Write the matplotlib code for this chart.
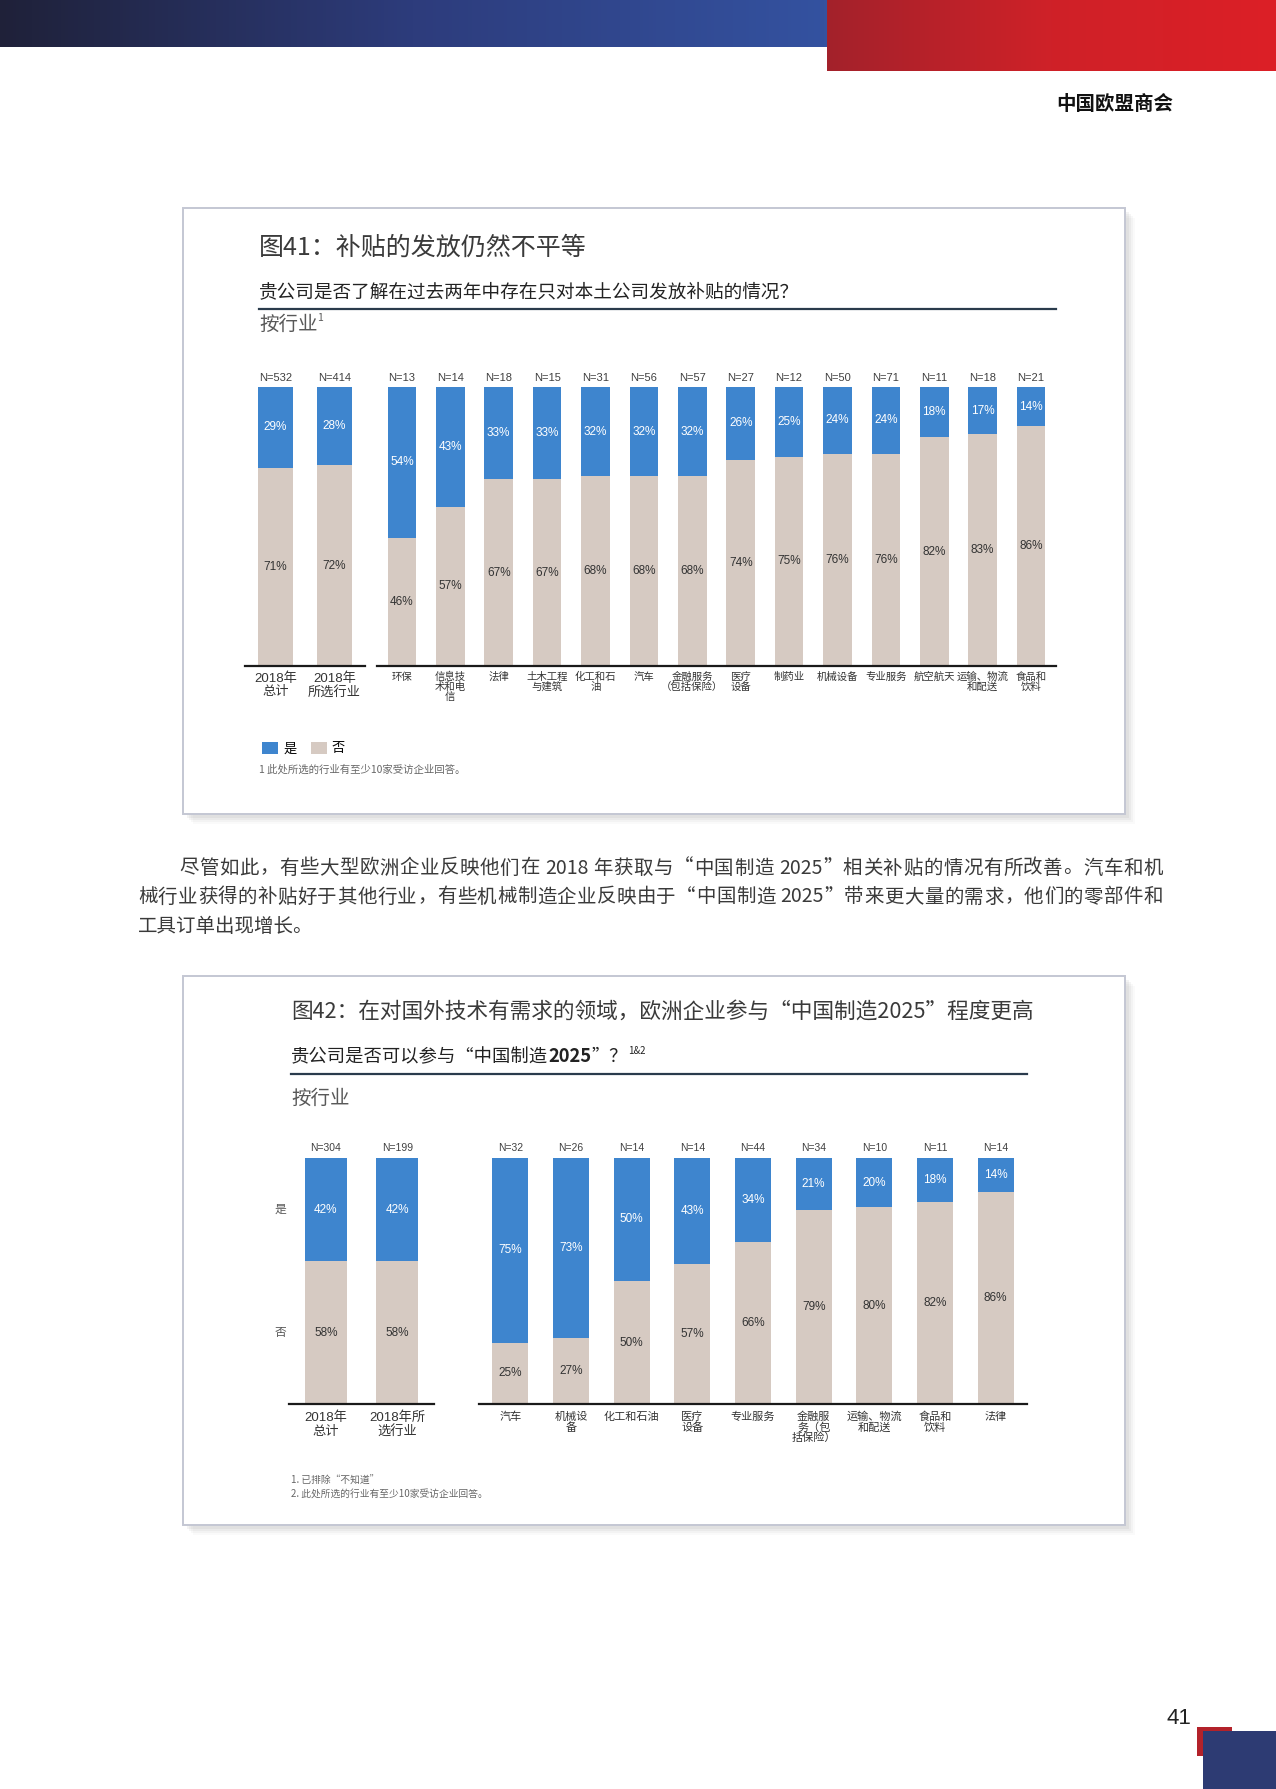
"page 41: two stacked-bar charts (subsidies / China Manufacturing 2025)"
import re
import numpy as np
import matplotlib
matplotlib.use("Agg")
from matplotlib import pyplot as plt
from matplotlib.colors import LinearSegmentedColormap
from matplotlib.font_manager import FontProperties
from matplotlib.patches import Rectangle

W, H = 1276, 1789
CJK = 'Noto Sans CJK SC'
NUM = ['Liberation Sans', CJK]
plt.rcParams['font.family'] = [CJK, 'DejaVu Sans']

BLUE = '#3E85CE'
BEIGE = '#D6CAC2'
DARK = '#333333'
GREY = '#595959'

# figure 41
f41_total_labels = ['2018年\n总计', '2018年\n所选行业']
f41_total_n = [532, 414]
f41_total_yes = [29, 28]
f41_total_no = [71, 72]
f41_sectors = ['环保', '信息技\n术和电\n信', '法律', '土木工程\n与建筑', '化工和石\n油', '汽车',
               '金融服务\n（包括保险）', '医疗\n设备', '制药业', '机械设备', '专业服务', '航空航天',
               '运输、物流\n和配送', '食品和\n饮料']
f41_n = [13, 14, 18, 15, 31, 56, 57, 27, 12, 50, 71, 11, 18, 21]
f41_yes = [54, 43, 33, 33, 32, 32, 32, 26, 25, 24, 24, 18, 17, 14]
f41_no = [46, 57, 67, 67, 68, 68, 68, 74, 75, 76, 76, 82, 83, 86]

# figure 42
f42_total_labels = ['2018年\n总计', '2018年所\n选行业']
f42_total_n = [304, 199]
f42_total_yes = [42, 42]
f42_total_no = [58, 58]
f42_sectors = ['汽车', '机械设\n备', '化工和石油', '医疗\n设备', '专业服务', '金融服\n务（包\n括保险）',
               '运输、物流\n和配送', '食品和\n饮料', '法律']
f42_n = [32, 26, 14, 14, 44, 34, 10, 11, 14]
f42_yes = [75, 73, 50, 43, 34, 21, 20, 18, 14]
f42_no = [25, 27, 50, 57, 66, 79, 80, 82, 86]

para_lines = [
    '尽管如此，有些大型欧洲企业反映他们在 2018 年获取与“中国制造 2025”相关补贴的情况有所改善。汽车和机',
    '械行业获得的补贴好于其他行业，有些机械制造企业反映由于“中国制造 2025”带来更大量的需求，他们的零部件和',
    '工具订单出现增长。',
]

fig = plt.figure(figsize=(W / 100, H / 100), dpi=100)
page = fig.add_axes([0, 0, 1, 1])
page.axis('off')

# top banner
grad = np.linspace(0, 1, 256)[None, :]
page.imshow(grad, cmap=LinearSegmentedColormap.from_list('d', ['#1f2139', '#2d3c7c', '#3452a0']),
            extent=(0, 827, 47, 0), aspect='auto', zorder=1)
page.imshow(grad, cmap=LinearSegmentedColormap.from_list('r', ['#a3222b', '#cf2128', '#dc1f26']),
            extent=(827, W, 71, 0), aspect='auto', zorder=1)
page.text(1173, 104, '中国欧盟商会', ha='right', va='center', fontsize=14, weight='bold', color='#111111')

# bottom corner squares + page number
page.add_patch(Rectangle((1197, 1727), 35, 29, color='#b3222a', lw=0))
page.add_patch(Rectangle((1203, 1731), 80, 60, color='#2d3b73', lw=0))
page.text(1191, 1719, '41', ha='right', va='center', fontsize=16, family=NUM, color='#222222')


def card(x0, y0, x1, y1):
    for k, a in [(10, 0.04), (8, 0.06), (6, 0.08), (4, 0.10)]:
        page.add_patch(Rectangle((x0 + k, y0 + k), x1 - x0, y1 - y0, color='#8a8a8a', alpha=a, lw=0))
    page.add_patch(Rectangle((x0, y0), x1 - x0, y1 - y0, facecolor='white', edgecolor='#c4c7d3', lw=1.4))


def group(box, labels, n, yes, no, lab_fs, lab_fam, pct_fs, n_fs, pad, n_off, lsp=1.1):
    x0, y0, x1, y1 = box
    ax = fig.add_axes([x0 / W, 1 - y1 / H, (x1 - x0) / W, (y1 - y0) / H])
    ax.patch.set_alpha(0)
    x = np.arange(len(labels))
    b_no = ax.bar(x, no, 0.59, color=BEIGE, lw=0)
    b_yes = ax.bar(x, yes, 0.59, bottom=no, color=BLUE, lw=0)
    for i in x:
        ax.text(i, no[i] / 2, f'{no[i]}%', ha='center', va='center', fontsize=pct_fs, family=NUM, color=DARK)
        ax.text(i, no[i] + yes[i] / 2, f'{yes[i]}%', ha='center', va='center', fontsize=pct_fs,
                family=NUM, color='white')
        ax.annotate(f'N={n[i]}', (i, 100), xytext=(0, n_off), textcoords='offset points', ha='center',
                    va='center', fontsize=n_fs, family=NUM, color='#404040')
    ax.set_xlim(-0.515, len(x) - 0.485)
    ax.set_ylim(0, 100)
    ax.set_yticks([])
    for s in ['left', 'right', 'top']:
        ax.spines[s].set_visible(False)
    ax.spines['bottom'].set_linewidth(1.6)
    ax.spines['bottom'].set_color('#1a1a1a')
    ax.set_xticks(x, labels)
    ax.tick_params(axis='x', length=0, pad=pad, labelsize=lab_fs, labelcolor=DARK)
    for t in ax.get_xticklabels():
        t.set_linespacing(lsp)
        t.set_family(lab_fam)
    return ax, b_yes, b_no


def chain(first, pieces):
    prev = first
    for s, kw in pieces:
        xy = kw.pop('xy', (1, 0))
        prev = page.annotate(s, xy=xy, xycoords=prev, va='bottom', ha='left', **kw)
    return prev


# ---- figure 41 ----
card(183, 208, 1125, 814)
page.text(259, 248, '图41：补贴的发放仍然不平等', va='center', fontsize=18, weight='light', color='#3a3a3a')
page.text(259, 292, '贵公司是否了解在过去两年中存在只对本土公司发放补贴的情况？', va='center',
          fontsize=13.4, color='#222222')
page.plot([259, 1056], [309, 309], color='#2a3b4c', lw=1.6)
t = page.text(259, 324, '按行业', va='center', fontsize=14, color=GREY)
chain(t, [('1', dict(fontsize=7.5, color=GREY, xy=(1, 0.55)))])

group((245, 387, 365, 666), f41_total_labels, f41_total_n, f41_total_yes, f41_total_no,
      9.5, NUM, 8.5, 8, 4.5, 6.5, 1.15)
ax41, by, bn = group((377, 387, 1056, 666), f41_sectors, f41_n, f41_yes, f41_no,
                     7.5, [CJK], 8.5, 8, 4, 6.5, 1.0)
fig.legend([by, bn], ['是', '否'], loc='upper left', bbox_to_anchor=(262 / W, 1 - 742 / H),
           ncol=2, frameon=False, fontsize=9.5, borderpad=0, borderaxespad=0, handletextpad=0.35,
           columnspacing=1.1, handlelength=1.25, handleheight=1.0)
page.text(259, 769, '1 此处所选的行业有至少10家受访企业回答。', va='center', fontsize=7.5, color='#666666')

# ---- paragraph (justified) ----
rend = fig.canvas.get_renderer()
fp = FontProperties(family=[CJK, 'DejaVu Sans'], size=14)


def justify(x0, x1, y, s):
    toks = re.findall(r'[0-9A-Za-z]+|.', s)
    ws = [rend.get_text_width_height_descent(tk, fp, ismath=False)[0] for tk in toks]
    gap = (x1 - x0 - sum(ws)) / (len(toks) - 1)
    x = x0
    for tk, w in zip(toks, ws):
        page.text(x, y, tk, va='center', ha='left', fontproperties=fp, color='#3a3a3a')
        x += w + gap


justify(179, 1163, 868, para_lines[0])
justify(138, 1163, 897, para_lines[1])
page.text(138, 926, para_lines[2], va='center', fontproperties=fp, color='#3a3a3a')

# ---- figure 42 ----
card(183, 976, 1125, 1525)
page.text(291, 1012, '图42：在对国外技术有需求的领域，欧洲企业参与“中国制造2025”程度更高', va='center',
          fontsize=15.6, weight='light', color='#3a3a3a')
t = page.text(291, 1057, '贵公司是否可以参与“中国制造', va='center', fontsize=13.2, color='#222222')
chain(t, [('2025', dict(fontsize=13.2, color='#222222', weight='bold')),
          ('”？', dict(fontsize=13.2, color='#222222')),
          ('1&2', dict(fontsize=7, color='#222222', xy=(1, 0.55)))])
page.plot([291, 1027], [1074, 1074], color='#2a3b4c', lw=1.6)
page.text(291, 1098, '按行业', va='center', fontsize=14, color=GREY)

axl, _, _ = group((289, 1158, 434, 1404), f42_total_labels, f42_total_n, f42_total_yes, f42_total_no,
                  9.5, NUM, 8.5, 7.5, 5.5, 7, 1.15)
axl.annotate('是', (-0.515, f42_total_no[0] + f42_total_yes[0] / 2), xytext=(-2, 0),
             textcoords='offset points', ha='right', va='center', fontsize=8.5, color=GREY)
axl.annotate('否', (-0.515, f42_total_no[0] / 2), xytext=(-2, 0),
             textcoords='offset points', ha='right', va='center', fontsize=8.5, color=GREY)
group((479, 1158, 1027, 1404), f42_sectors, f42_n, f42_yes, f42_no, 8, [CJK], 8.5, 7.5, 5.5, 7, 1.0)
page.text(291, 1481, '1. 已排除“不知道”', va='center', fontsize=7, color='#666666')
page.text(291, 1494, '2. 此处所选的行业有至少10家受访企业回答。', va='center', fontsize=7, color='#666666')

page.set_xlim(0, W)
page.set_ylim(H, 0)
fig.savefig('out.png', dpi=100)
